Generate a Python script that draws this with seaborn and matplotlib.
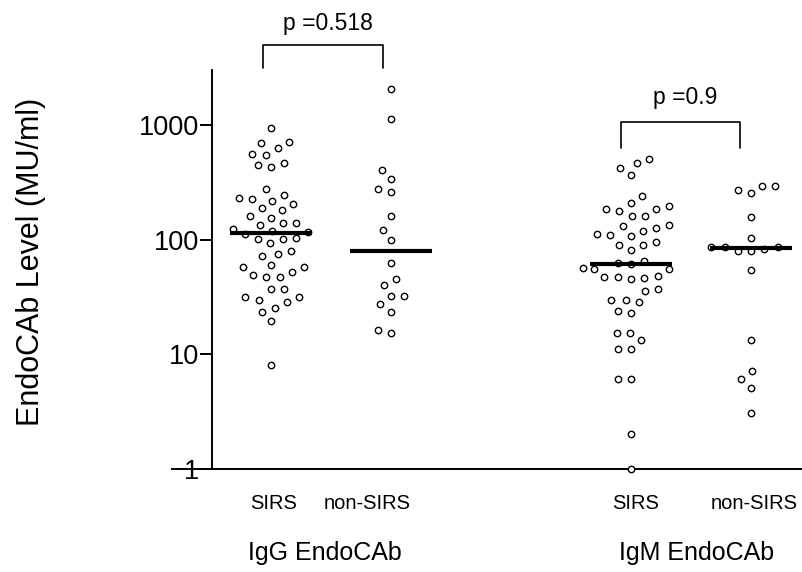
import matplotlib
matplotlib.use("Agg")
import matplotlib.pyplot as plt
import numpy as np
import pandas as pd
import seaborn as sns
from matplotlib.path import Path
from matplotlib.transforms import Affine2D, blended_transform_factory

# values (MU/ml)
igg_sirs = [947, 714, 692, 626, 562, 547, 466, 445, 430, 274, 246, 229, 224, 218,
            205, 187, 181, 159, 155, 140, 139, 134, 124, 120, 116, 112, 104, 102,
            102, 93, 79, 75, 72, 60, 58, 58, 52, 49, 47, 47, 37, 37, 31.6, 31.6,
            30, 28.5, 25.4, 23.4, 19.4, 8.1]
igg_non_sirs = [2055, 1132, 405, 337, 274, 260, 160, 122, 99, 63, 45, 40, 32, 32,
                27.3, 23.3, 16.4, 15.3]
igm_sirs = [505, 462, 421, 366, 241, 208, 196, 185, 185, 177, 159, 159, 134, 131,
            126, 119, 112, 109, 107, 95, 90, 89, 81, 65, 62, 61, 56, 55, 55, 48,
            47, 47, 46, 45, 37, 35.5, 30, 30, 28.3, 24, 23, 15.3, 15.3, 13.2, 11.2,
            11.2, 6.1, 6.1, 2.0, 1.0]
igm_non_sirs = [295, 295, 270, 253, 156, 104, 86, 86, 86, 83, 80, 80, 54, 13.2,
                7.2, 6.1, 5.1, 3.1]

groups = ["IgG SIRS", "IgG non-SIRS", "", "IgM SIRS", "IgM non-SIRS"]
tick_labels = ["SIRS", "non-SIRS", "SIRS", "non-SIRS"]
panel_labels = ["IgG EndoCAb", "IgM EndoCAb"]
p_values = ["p =0.518", "p =0.9"]

df = pd.concat([
    pd.DataFrame({"group": "IgG SIRS", "level": igg_sirs}),
    pd.DataFrame({"group": "IgG non-SIRS", "level": igg_non_sirs}),
    pd.DataFrame({"group": "IgM SIRS", "level": igm_sirs}),
    pd.DataFrame({"group": "IgM non-SIRS", "level": igm_non_sirs}),
], ignore_index=True)

sns.set_style("ticks")
plt.rcParams["font.family"] = ["Liberation Sans", "DejaVu Sans"]
plt.rcParams.update({"text.color": "black", "axes.labelcolor": "black",
                     "xtick.color": "black", "ytick.color": "black"})

fig = plt.figure(figsize=(8.02, 5.72), dpi=100)
ax = fig.add_axes([172 / 802, 1 - 469 / 572, 630 / 802, 399 / 572])

# layout size is wider than the drawn marker so the swarm spreads like the original
layout_pt = 8.2
sns.swarmplot(data=df, x="group", y="level", order=groups, log_scale=True,
              size=layout_pt, color="white", edgecolor="black", linewidth=1.0,
              ax=ax, zorder=3)
small = Path.unit_circle().transformed(Affine2D().scale(0.5 * 4.6 / layout_pt))
for coll in ax.collections:
    coll.set_paths([small])
    coll.set_clip_on(False)

sns.boxplot(data=df, x="group", y="level", order=groups, width=0.68,
            showbox=False, showcaps=False, showfliers=False,
            whiskerprops={"visible": False},
            medianprops={"color": "black", "linewidth": 3.0, "zorder": 4},
            ax=ax)

ax.set_xlim(-0.825, 4.425)
ax.set_ylim(1, 3010)
ax.spines["left"].set_position(("data", -0.49))
for side in ["top", "right"]:
    ax.spines[side].set_visible(False)
for side in ["left", "bottom"]:
    ax.spines[side].set_linewidth(1.4)
    ax.spines[side].set_color("black")

ax.set_yticks([1, 10, 100, 1000])
ax.set_yticklabels(["1", "10", "100", "1000"])
ax.yaxis.set_minor_locator(matplotlib.ticker.NullLocator())
ax.tick_params(axis="y", length=8.6, width=1.4, labelsize=19.5, pad=1)

ax.set_xticks([0.02, 0.8, 3.04, 4.03])
ax.set_xticklabels(tick_labels)
ax.tick_params(axis="x", length=0, labelsize=14.5, pad=18)

ax.set_xlabel("")
ax.set_ylabel("EndoCAb Level (MU/ml)", fontsize=22)
ax.yaxis.set_label_coords(-0.2, 0.52)

trans = blended_transform_factory(ax.transData, ax.transAxes)
for xc, lab in zip([0.45, 3.55], panel_labels):
    ax.text(xc, -0.21, lab, transform=trans, ha="center", va="center", fontsize=18)

# significance brackets
brackets = [(-0.067, 0.933, 4975, 3133, 7730), (2.917, 3.908, 1060, 629, 1716)]
for (x0, x1, top, leg, ytxt), ptxt in zip(brackets, p_values):
    ax.plot([x0, x0, x1, x1], [leg, top, top, leg], color="black", lw=1.2,
            clip_on=False)
    ax.text((x0 + x1) / 2 + 0.04, ytxt, ptxt, ha="center", va="center",
            fontsize=16.5, clip_on=False)

fig.savefig("out.png", dpi=100)
